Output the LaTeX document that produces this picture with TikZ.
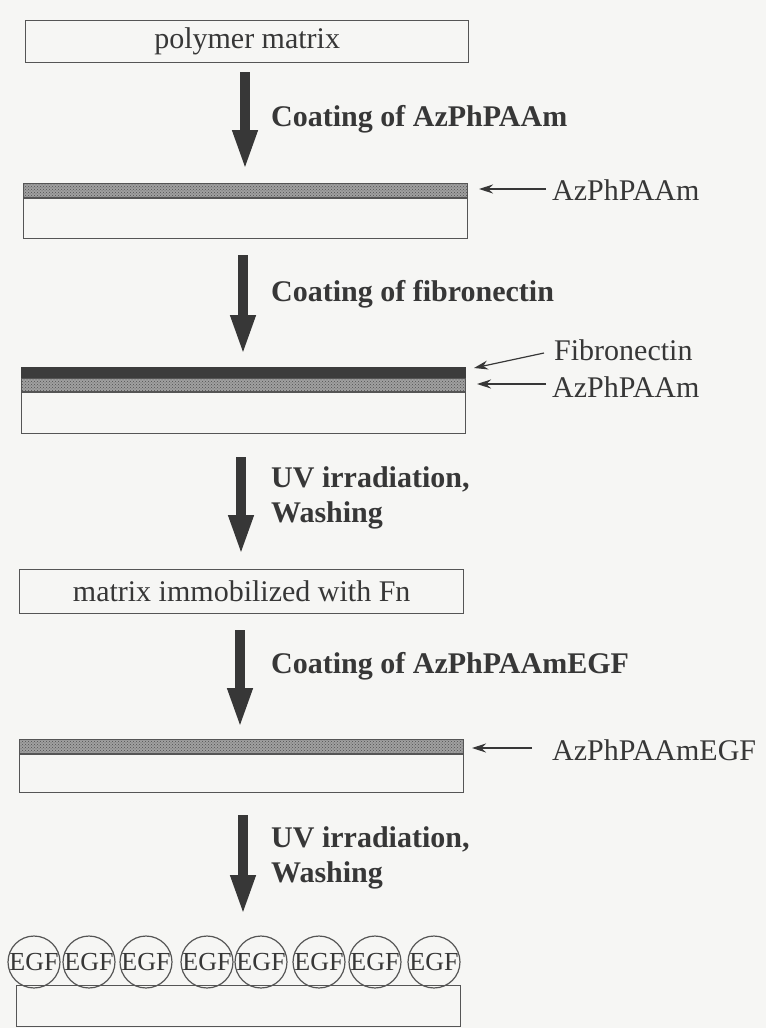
\documentclass[tikz,border=0pt]{standalone}
\usepackage{fontspec}
\setmainfont{Liberation Serif}
\usetikzlibrary{arrows.meta,patterns}
\definecolor{bg}{RGB}{246,246,244}
\definecolor{ink}{RGB}{55,55,55}
\definecolor{edge}{RGB}{85,85,85}
\definecolor{hatchbg}{RGB}{160,160,160}
\definecolor{hatchfg}{RGB}{80,80,80}
\definecolor{fncol}{RGB}{60,60,60}
\begin{document}
\begin{tikzpicture}[x=1pt,y=-1pt,
  plate/.style={draw=edge, line width=1.3pt, inner sep=0pt, anchor=north west, text=ink,
    font=\fontsize{30}{34}\selectfont},
  hatch/.style={draw=edge, line width=1pt, inner sep=0pt, anchor=south west,
    preaction={fill=hatchbg}, pattern=crosshatch dots, pattern color=hatchfg},
  fnlayer/.style={draw=fncol, line width=1pt, inner sep=0pt, anchor=south west, fill=fncol},
  bigarrow/.style={draw=ink, line width=9.5pt, -{Triangle[width=23pt,length=40pt]}},
  smallarrow/.style={draw=ink, line width=1.2pt, -{Stealth[width=9pt,length=14pt]}},
  steplbl/.style={anchor=west, inner sep=0pt, text=ink, align=left,
    font=\fontsize{30}{35}\selectfont\bfseries},
  sidelbl/.style={anchor=west, inner sep=0pt, text=ink, font=\fontsize{30}{34}\selectfont},
  egf/.style={circle, draw=edge, line width=1.2pt, minimum size=46pt, inner sep=0pt,
    text=ink, font=\fontsize{26}{26}\selectfont}
]
\fill[bg] (0,0) rectangle (766,1028);
\useasboundingbox (0,0) rectangle (766,1028);

% step 0: polymer matrix
\node[plate, minimum width=443pt, minimum height=42pt] (b1) at (25,20) {polymer matrix};

% arrow 1
\coordinate (a1s) at (245,72);
\coordinate (a1e) at (245,170);
\draw[bigarrow] (a1s) -- (a1e);
\node[steplbl] (t1) at (271,119) {Coating of AzPhPAAm};

% layer 1
\node[plate, minimum width=444pt, minimum height=40pt] (b2) at (23,198) {};
\node[hatch, minimum width=444pt, minimum height=14pt] (h2) at (b2.north west) {};
\node[sidelbl] (r2) at (552,190) {AzPhPAAm};
\coordinate (p2) at (479,189);
\coordinate (q2) at ([xshift=-6pt]r2.west);
\draw[smallarrow] (q2 |- p2) -- (p2);

% arrow 2
\coordinate (a2s) at (243,255);
\coordinate (a2e) at (243,355);
\draw[bigarrow] (a2s) -- (a2e);
\node[steplbl] (t2) at (271,294) {Coating of fibronectin};

% fibronectin layer
\node[plate, minimum width=444pt, minimum height=41pt] (b3) at (21,392) {};
\node[hatch, minimum width=444pt, minimum height=13pt] (h3) at (b3.north west) {};
\node[fnlayer, minimum width=444pt, minimum height=10pt] (f3) at (h3.north west) {};
\node[sidelbl] (r3a) at (554,350) {Fibronectin};
\node[sidelbl] (r3b) at (552,387) {AzPhPAAm};
\coordinate (p3a) at (474,368);
\coordinate (p3b) at (477,384);
\coordinate (q3b) at ([xshift=-6pt]r3b.west);
\draw[smallarrow] ([xshift=-10pt,yshift=-3pt]r3a.west) -- (p3a);
\draw[smallarrow] (q3b |- p3b) -- (p3b);

% arrow 3
\coordinate (a3s) at (241,457);
\coordinate (a3e) at (241,555);
\draw[bigarrow] (a3s) -- (a3e);
\node[steplbl] (t3) at (271,498) {UV irradiation,\\Washing};

% matrix immobilized with Fn
\node[plate, minimum width=444pt, minimum height=44pt] (b4) at (19,569) {matrix immobilized with Fn};

% arrow 4
\coordinate (a4s) at (240,630);
\coordinate (a4e) at (240,728);
\draw[bigarrow] (a4s) -- (a4e);
\node[steplbl] (t4) at (271,666) {Coating of AzPhPAAmEGF};

% AzPhPAAmEGF layer
\node[plate, minimum width=444pt, minimum height=38pt] (b5) at (19,754) {};
\node[hatch, minimum width=444pt, minimum height=14pt] (h5) at (b5.north west) {};
\node[sidelbl] (r5) at (552,750) {AzPhPAAmEGF};
\coordinate (p5) at (472,748);
\coordinate (q5) at ([xshift=-20pt]r5.west);
\draw[smallarrow] (q5 |- p5) -- (p5);

% arrow 5
\coordinate (a5s) at (243,815);
\coordinate (a5e) at (243,915);
\draw[bigarrow] (a5s) -- (a5e);
\node[steplbl] (t5) at (271,858) {UV irradiation,\\Washing};

% EGF immobilized matrix
\node[plate, minimum width=444pt, minimum height=41pt] (b6) at (16,985) {};
\node[egf] (e1) at (34,962) {EGF};
\node[egf] (e2) at (89,962) {EGF};
\node[egf] (e3) at (146,962) {EGF};
\node[egf] (e4) at (207,962) {EGF};
\node[egf] (e5) at (261,962) {EGF};
\node[egf] (e6) at (319,962) {EGF};
\node[egf] (e7) at (375,962) {EGF};
\node[egf] (e8) at (434,962) {EGF};
\end{tikzpicture}
\end{document}
